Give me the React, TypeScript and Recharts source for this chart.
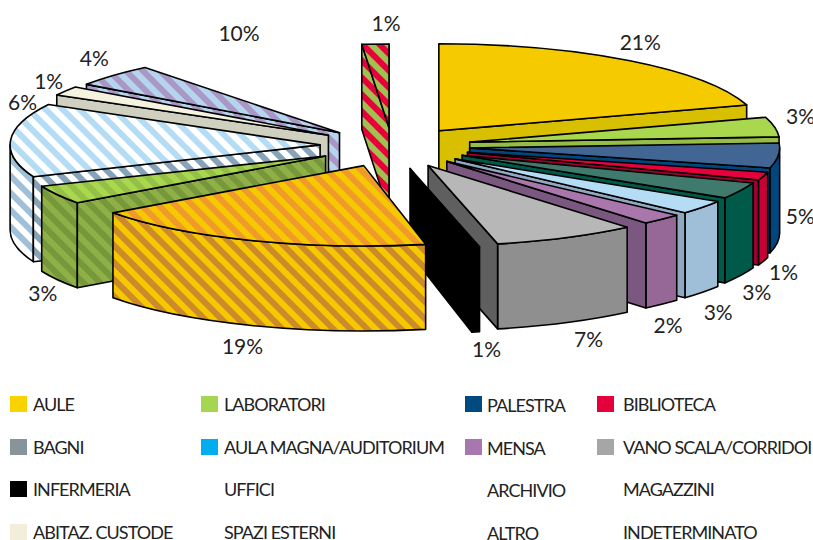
import React from "react";
import { PieChart, Pie, Legend } from "recharts";

// ---- data ----
const NAMES = ["AULE","LABORATORI","PALESTRA","BIBLIOTECA","BAGNI","AULA MAGNA/AUDITORIUM","MENSA","VANO SCALA/CORRIDOI","INFERMERIA","UFFICI","ARCHIVIO","MAGAZZINI","ABITAZ. CUSTODE","SPAZI ESTERNI","ALTRO","INDETERMINATO"];
// wedge shares
const SHARES = [20.2,3.8,5,1.6,3.3,2.8,2.2,7.5,0.4,18.2,3.8,14.2,1.8,4.4,9.4,1.4];
// percentages as printed in the picture
const PERCENT_LABELS = ["21%","3%","5%","1%","3%","3%","2%","7%","1%","19%","3%","6%","1%","4%","10%","1%"];
const sliceData = NAMES.map((name, i) => ({ name, value: SHARES[i] }));

// ---- style / layout ----
const CX = 392, CY = 146, R = 310, TILT = 0.27, DEPTH = 85, LABEL_CX = 395, LABEL_REACH = 385;
const EXPLODE = [79,79,78,79,78,79,79,81,85,78,76,72,75,72,75,68];
const RADIUS_SCALE = [1.04,1,1,1,1,1,1,1,1,1,0.99,1,1,1,1,1];
const DROP = [2,0,0,0,0,0,0,0,0,0,0,0,0,0,0,0];
const FRONT_FLATTEN = 0.96;
const LABEL_NUDGE = [[17,-21],[27,-12],[22,-25],[21,10],[16,15],[16,18],[6,19],[22,14],[10,16],[-13,18],[-16,11],[12,-39],[-20,-10],[-20,-17],[-12,-17],[8,-20]];
const Z_ORDER = [14,15,13,12,11,10,0,1,2,3,4,5,6,7,8,9];

// [top, outer wall, cut wall]
const FACE_FILLS = [
  ["#f5cb00","#d8c000","#d8c000"],
  ["#a9d84f","#95bd47","#95bd47"],
  ["#426693","#00467f","#00467f"],
  ["#e8003c","#c80036","#a00030"],
  ["#3f7a6c","#005a49","#005a49"],
  ["#b5dcf5","#9fbfd8","#90a8c0"],
  ["#a977ac","#956897","#7a5880"],
  ["#b7b7b7","#8f8f8f","#5f5f5f"],
  ["#000000","#000000","#000000"],
  ["url(#pOrangeTop)","url(#pOrangeSide)","url(#pOrangeSide)"],
  ["url(#pGreenTop)","url(#pGreenSide)","url(#pGreenSide)"],
  ["url(#pBlueTop)","url(#pBlueOuter)","url(#pBlueCut)"],
  ["#f5f2e0","#d0d0c0","#d0d0c0"],
  ["url(#pPurple)","url(#pPurple)","url(#pPurple)"],
  ["none","none","none"],
  ["url(#pRed)","url(#pRed)","url(#pRed)"],
];
const PATTERNS: [string,string,string][] = [
  ["pOrangeTop","#f5c800","#f09a2c"],
  ["pOrangeSide","#f5c800","#cc8a2b"],
  ["pGreenTop","#a9d84f","#94c048"],
  ["pGreenSide","#8fb046","#76983a"],
  ["pBlueTop","#ffffff","#b5dcf5"],
  ["pBlueOuter","#ffffff","#9fc0d8"],
  ["pBlueCut","#ffffff","#87a3b9"],
  ["pPurple","#b5d5ef","#a997c5"],
  ["pRed","#e8003c","#a0c050"],
];

const LEGEND_COL_SWATCH = [10,201,465,597];
const LEGEND_COL_TEXT = [33,224,487,623];
const LEGEND_COL_DROP = [0,0,1,0];
const LEGEND_ROW = [396,439,481,524];
const LEGEND_SWATCH = ["#f9d300","#a5d551","#004a7f","#e4003a","#87949b","#00aeef","#a877b0","#a6a6a6","#000000",null,null,null,"#f2eeda",null,null,null];

const rad = (d: number) => (d * Math.PI) / 180;

function wedge(props: any) {
  const i = NAMES.indexOf(props.name ?? props.payload?.name);
  const t1 = 90 - props.startAngle, t2 = 90 - props.endAngle, m = (t1 + t2) / 2;
  const cx = props.cx, cy = props.cy + DROP[i];
  const r = props.outerRadius * RADIUS_SCALE[i];
  const ry = r * TILT * (Math.cos(rad(m)) < 0 ? FRONT_FLATTEN : 1);
  const ax = cx + EXPLODE[i] * Math.sin(rad(m)), ay = cy - EXPLODE[i] * TILT * Math.cos(rad(m));
  const P = (t: number, dz = 0): [number, number] => [ax + r * Math.sin(rad(t)), ay - ry * Math.cos(rad(t)) + dz];
  const [top, outer, cut] = FACE_FILLS[i];
  const line = top === "none" ? "none" : "#000";
  const arc = (a: number, b: number, dz = 0) => {
    const [x, y] = P(b, dz);
    return `A${r} ${ry} 0 ${Math.abs(b - a) > 180 ? 1 : 0} ${b > a ? 1 : 0} ${x} ${y}`;
  };
  const pt = (p: [number, number]) => `${p[0]} ${p[1]}`;
  const faces: React.ReactNode[] = [];
  const f1 = Math.max(t1, 90), f2 = Math.min(t2, 270);
  const sw = 1.6;
  if (f2 > f1) {
    faces.push(<path key="o" d={`M${pt(P(f1))} ${arc(f1, f2)} L${pt(P(f2, DEPTH))} ${arc(f2, f1, DEPTH)} Z`} fill={outer} stroke={line} strokeWidth={sw} strokeLinejoin="round" />);
  }
  const cutFace = (t: number, k: string) => (
    <path key={k} d={`M${ax} ${ay} L${pt(P(t))} L${pt(P(t, DEPTH))} L${ax} ${ay + DEPTH} Z`} fill={cut} stroke={line} strokeWidth={sw} strokeLinejoin="round" />
  );
  if (Math.sin(rad(t2)) > 0) faces.push(cutFace(t2, "c2"));
  if (Math.sin(rad(t1)) < 0) faces.push(cutFace(t1, "c1"));
  faces.push(<path key="t" d={`M${ax} ${ay} L${pt(P(t1))} ${arc(t1, t2)} Z`} fill={top} stroke={line} strokeWidth={sw} strokeLinejoin="round" />);
  return <g>{faces}</g>;
}

const percentLabel = (props: any) => {
  const i = props.index;
  const m = 90 - props.midAngle;
  const c = Math.cos(rad(m));
  const x = LABEL_CX + LABEL_REACH * Math.sin(rad(m)) + LABEL_NUDGE[i][0];
  const y = CY - LABEL_REACH * TILT * c + (c < 0 ? DEPTH : 0) + LABEL_NUDGE[i][1];
  return (
    <text x={x} y={y} textAnchor="middle" dominantBaseline="central" fontFamily="Lato" fontSize={21} fill="#222">
      {PERCENT_LABELS[i]}
    </text>
  );
};

const legendContent = () => (
  <div style={{ position: "relative", width: 813, height: 540, overflow: "hidden", pointerEvents: "none" }}>
    {NAMES.map((name, n) => {
      const col = n % 4, row = Math.floor(n / 4);
      const top = LEGEND_ROW[row];
      return (
        <React.Fragment key={name}>
          {LEGEND_SWATCH[n] && (
            <div style={{ position: "absolute", left: LEGEND_COL_SWATCH[col], top, width: 17, height: 16, background: LEGEND_SWATCH[n]! }} />
          )}
          <div style={{ position: "absolute", left: LEGEND_COL_TEXT[col], top: top + 0.5 + LEGEND_COL_DROP[col], lineHeight: "15px", fontFamily: "Lato", fontSize: 18, letterSpacing: -0.95, color: "#222", whiteSpace: "nowrap" }}>
            {name}
          </div>
        </React.Fragment>
      );
    })}
  </div>
);

export default function App() {
  return (
    <div style={{ position: "absolute", left: 0, top: 0, width: 813, height: 540, overflow: "hidden", background: "#fff" }}>
      <PieChart width={813} height={540} margin={{ top: 0, right: 0, bottom: 0, left: 0 }}>
        <defs>
          {PATTERNS.map(([id, a, b]) => (
            <pattern key={id} id={id} width={12} height={12} patternUnits="userSpaceOnUse" patternTransform="rotate(-45)">
              <rect width={12} height={12} fill={a} />
              <rect width={6} height={12} fill={b} />
            </pattern>
          ))}
        </defs>
        {Z_ORDER.map((z) => {
          const only = (p: any) => ((p.name ?? p.payload?.name) === NAMES[z] ? wedge(p) : <g />);
          return (
            <Pie key={z} data={sliceData} dataKey="value" nameKey="name" cx={CX} cy={CY} outerRadius={R} innerRadius={0}
              startAngle={90} endAngle={-270} stroke="none" isAnimationActive={false} shape={only} activeShape={only} inactiveShape={only} labelLine={false} legendType="none" />
          );
        })}
        <Pie data={sliceData} dataKey="value" nameKey="name" cx={CX} cy={CY} outerRadius={R}
          startAngle={90} endAngle={-270} fill="none" stroke="none" isAnimationActive={false}
          shape={() => <g />} activeShape={() => <g />} inactiveShape={() => <g />} label={percentLabel} labelLine={false} legendType="none" />
        <Legend content={legendContent} wrapperStyle={{ left: 0, top: 0, width: 813, height: 540, pointerEvents: "none" }} />
      </PieChart>
    </div>
  );
}
